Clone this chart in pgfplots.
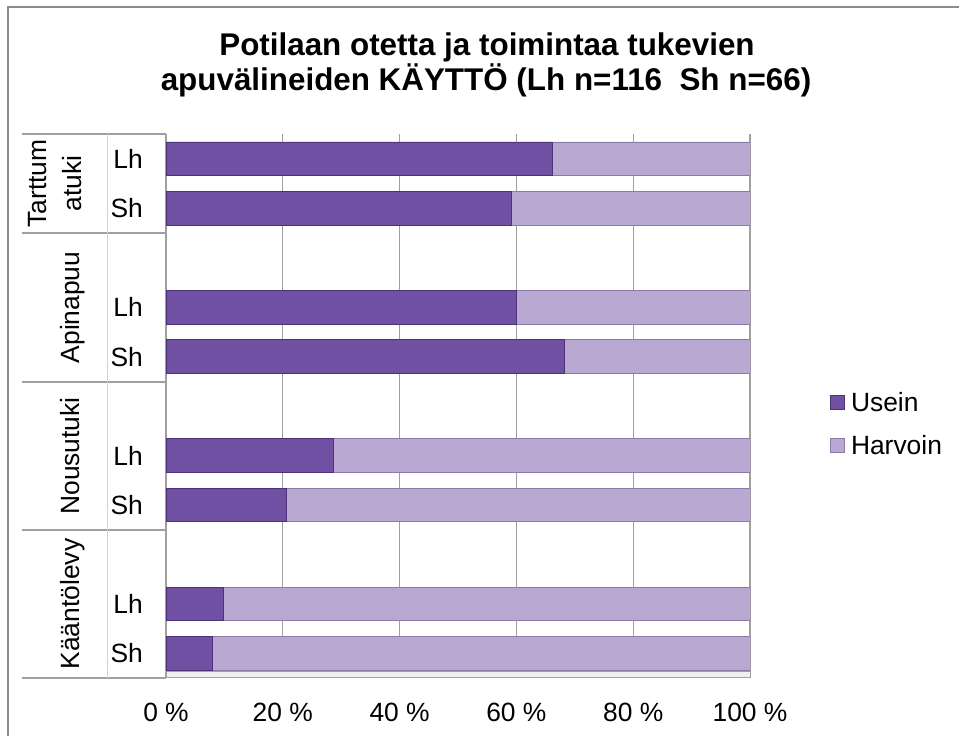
\documentclass[border=0pt]{standalone}
\usepackage{fontspec}
\setmainfont{Liberation Sans}
\usepackage{pgfplots}
\pgfplotsset{compat=1.18}
\definecolor{dkB}{HTML}{7050A2}
\definecolor{dkE}{HTML}{4E3278}
\definecolor{ltB}{HTML}{B9A8D1}
\definecolor{ltE}{HTML}{8C7AA6}
\definecolor{frame}{HTML}{8C8C8C}
\definecolor{sep}{HTML}{A0A0A0}
\begin{document}
\begin{tikzpicture}
\useasboundingbox (0bp,0bp) rectangle (959bp,736bp);
\begin{axis}[
  at={(166bp,58bp)}, anchor=south west,
  scale only axis, width=584bp, height=544bp,
  xbar stacked, bar width=0.68,
  xmin=0, xmax=100, ymin=-0.5, ymax=10.5,
  xtick={0,20,40,60,80,100},
  xticklabels={0 \%,20 \%,40 \%,60 \%,80 \%,100 \%},
  ytick=\empty,
  xmajorgrids, grid style={sep, line width=1.3bp},
  axis line style={draw=none},
  major tick length=0pt,
  tick label style={font=\fontsize{26.5}{30}\selectfont},
  xticklabel style={anchor=base, inner sep=0pt, yshift=-43bp},
  legend style={draw=none, fill=none, at={(1.137,0.467)}, anchor=west,
    font=\fontsize{26.5}{30}\selectfont, row sep=18bp,
    cells={anchor=west}, inner sep=0pt},
  legend image code/.code={\path[#1] (0bp,-7bp) rectangle (14bp,7bp);},
]
\addplot[draw=dkE, line width=0.8bp, fill=dkB]
  coordinates {(8,0) (9.8,1) (20.7,3) (28.6,4) (68.3,6) (60,7) (59.1,9) (66.1,10)};
\addplot[draw=ltE, line width=0.8bp, fill=ltB]
  coordinates {(92,0) (90.2,1) (79.3,3) (71.4,4) (31.7,6) (40,7) (40.9,9) (33.9,10)};
\legend{\hspace{4bp}Usein, \hspace{4bp}Harvoin}
\end{axis}
\begin{scope}[x=1bp,y=1bp]
\draw[frame, line width=2bp] (8,-20) -- (8,729) -- (1000,729);
\node[font=\bfseries\fontsize{31.5}{36}\selectfont, anchor=base] at (487,680) {Potilaan otetta ja toimintaa tukevien};
\node[font=\bfseries\fontsize{31.5}{36}\selectfont, anchor=base] at (486,645) {apuvälineiden KÄYTTÖ (Lh n=116\ \ Sh n=66)};
\draw[sep, fill=gray!12, line width=1bp] (166,58) rectangle (750,64);
\foreach \yy in {602,503,354,206,58} \draw[sep, line width=1.5bp] (22,\yy) -- (166,\yy);
\draw[gray!35, line width=1bp] (107,602) -- (107,58);
\draw[sep, line width=1.3bp] (165.5,602) -- (165.5,58);
\begin{scope}[every node/.style={font=\fontsize{26.5}{30}\selectfont, inner sep=0pt}]
\foreach \yy in {132.2,280.5,428.9,577.3} \node[anchor=east] at (143,\yy) {Lh};
\foreach \yy in {82.7,231.1,379.4,527.8} \node[anchor=east] at (143,\yy) {Sh};
\node[rotate=90, anchor=base] at (46,552.5) {Tarttum};
\node[rotate=90, anchor=base] at (81,552.5) {atuki};
\node[rotate=90, anchor=base] at (79,428.5) {Apinapuu};
\node[rotate=90, anchor=base] at (79,280) {Nousutuki};
\node[rotate=90, anchor=base] at (79,132) {Kääntölevy};
\end{scope}
\end{scope}
\end{tikzpicture}
\end{document}
